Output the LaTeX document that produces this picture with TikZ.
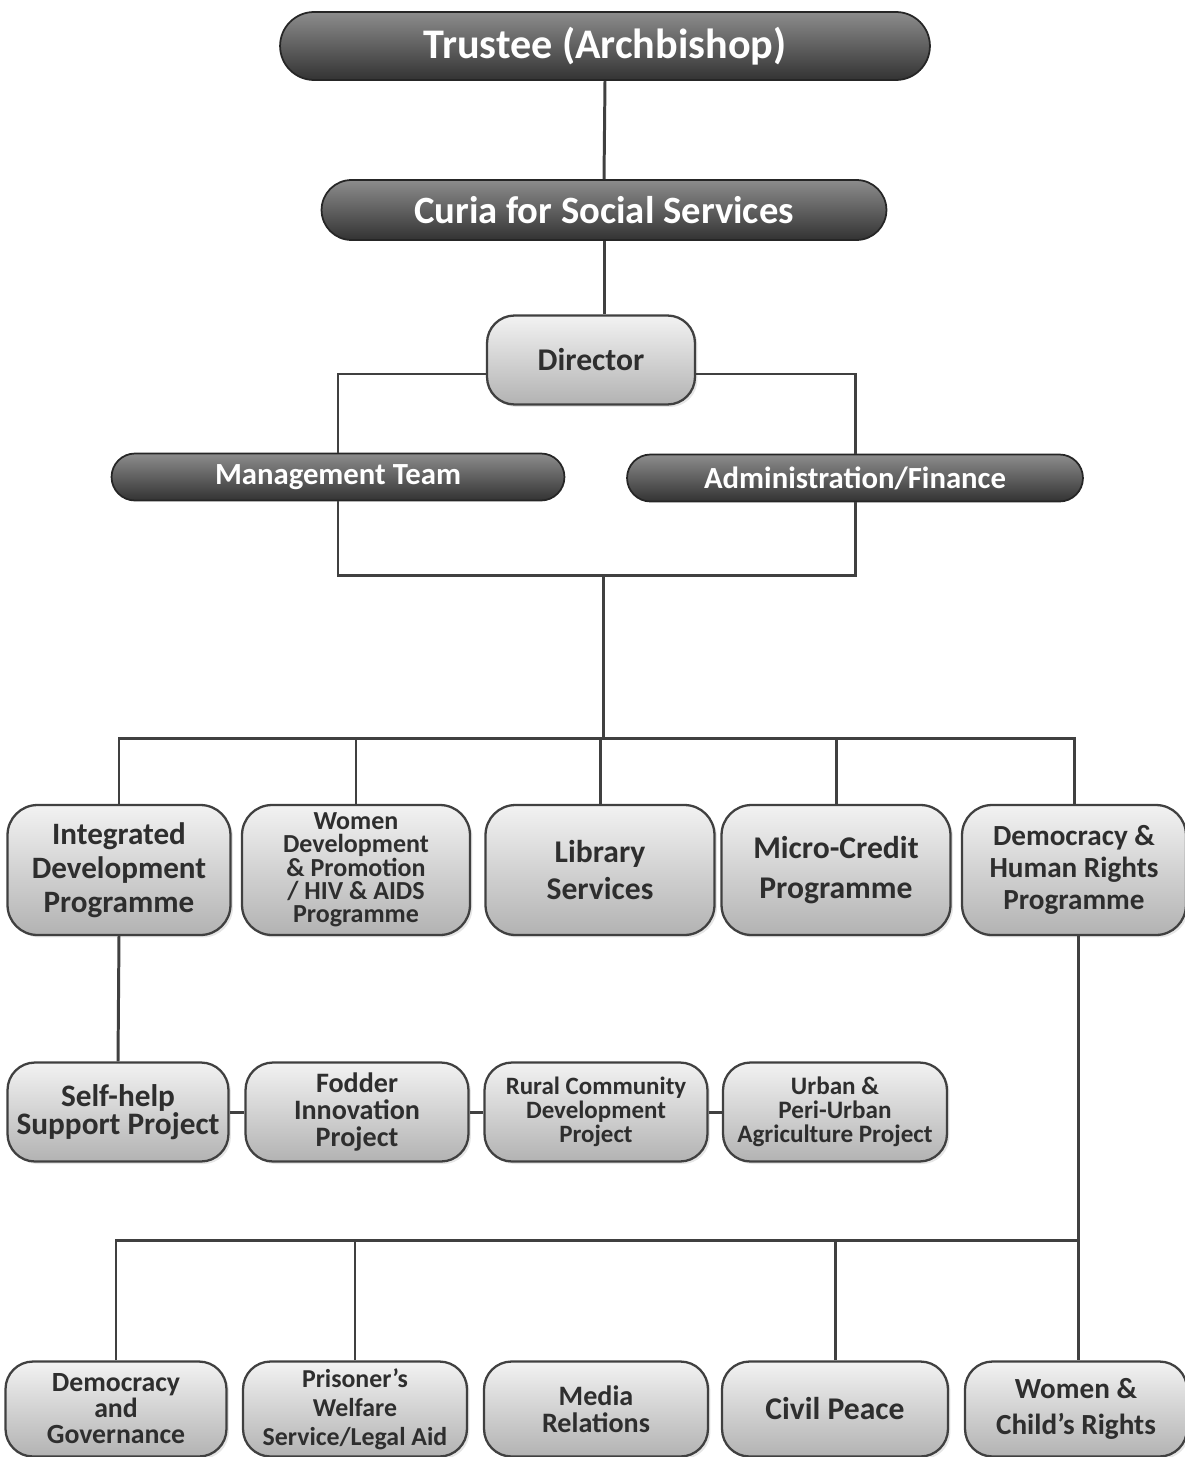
\documentclass[tikz,border=0pt]{standalone}
\usepackage{fontspec}
\setmainfont{Carlito}
\usetikzlibrary{positioning,shadows}
\newcommand\fs[2]{\fontsize{#1}{#2}\selectfont\bfseries\lineskiplimit=-20pt}
\tikzset{
  conn/.style={draw=black!75, line width=1.7pt},
  headbox/.style={draw=black!85, line width=1pt, top color=black!45, bottom color=black!80, text=white, align=center, inner sep=2pt},
  unitbox/.style={draw=black!75, line width=1.3pt, rounded corners=0.55cm, top color=black!5, bottom color=black!30, text=black!82, align=center, inner sep=2pt, drop shadow={opacity=0.2, shadow xshift=0.05cm, shadow yshift=-0.05cm}},
  progbox/.style={unitbox, minimum height=2.6cm, rounded corners=0.6cm},
  projbox/.style={unitbox, minimum height=1.98cm},
  relbox/.style={unitbox, minimum height=1.9cm}
}

\begin{document}
\begin{tikzpicture}[x=0.02cm, y=-0.02cm]
  \useasboundingbox (0,0) rectangle (1185,1457);
  % top of the chart
  \node[headbox, minimum width=13cm, minimum height=1.36cm, rounded corners=0.68cm, font=\fs{24}{26}] (trustee) at (605,46) {Trustee (Archbishop)};
  \node[headbox, minimum width=11.3cm, minimum height=1.2cm, rounded corners=0.6cm, font=\fs{22}{24}] (curia) at (604,210) {Curia for Social Services};
  \node[unitbox, minimum width=4.16cm, minimum height=1.78cm, font=\fs{18}{20}] (director) at (591,360) {Director};
  \node[headbox, minimum width=9.06cm, minimum height=0.94cm, rounded corners=0.47cm, font=\fs{17.5}{19}] (mgmt) at (338,477) {Management Team};
  \node[headbox, minimum width=9.12cm, minimum height=0.94cm, rounded corners=0.47cm, font=\fs{17.5}{19}] (admin) at (855,478) {Administration/Finance};
  \coordinate (hub) at (603,575);
  \coordinate (bus) at (603,738);

  % programmes
  \node[progbox, minimum width=4.46cm, font=\fs{17.7}{19.3}] (prog1) at (119,870) {Integrated\\Development\\Programme};
  \node[progbox, minimum width=4.56cm, font=\fs{14.8}{13.3}] (prog2) at (356,870) {Women\\Development\\\& Promotion\\/ HIV \& AIDS\\Programme};
  \node[progbox, minimum width=4.58cm, font=\fs{18}{21.5}] (prog3) at (600,870) {Library\\Services};
  \node[progbox, minimum width=4.58cm, font=\fs{18}{22.7}] (prog4) at (836,870) {Micro-Credit\\Programme};
  \node[progbox, minimum width=4.48cm, font=\fs{16.6}{18.1}] (prog5) at (1074,870) {Democracy \&\\Human Rights\\Programme};

  % projects
  \node[projbox, minimum width=4.42cm, font=\fs{17.8}{16.2}] (proj1) at (118,1112) {Self-help\\Support Project};
  \node[projbox, minimum width=4.46cm, font=\fs{16}{15.3}] (proj2) at (357,1112) {Fodder\\Innovation\\Project};
  \node[projbox, minimum width=4.46cm, font=\fs{14.2}{13.6}] (proj3) at (596,1112) {Rural Community\\Development\\Project};
  \node[projbox, minimum width=4.48cm, font=\fs{14.3}{13.6}] (proj4) at (835,1112) {Urban \&\\Peri-Urban\\Agriculture Project};

  % democracy and human rights units
  \node[relbox, minimum width=4.42cm, font=\fs{15.8}{14.8}] (rel1) at (116,1409) {Democracy\\and\\Governance};
  \node[relbox, minimum width=4.48cm, font=\fs{14.7}{16.4}] (rel2) at (355,1409) {Prisoner’s\\Welfare\\Service/Legal Aid};
  \node[relbox, minimum width=4.48cm, font=\fs{16}{15.3}] (rel3) at (596,1409) {Media\\Relations};
  \node[relbox, minimum width=4.52cm, font=\fs{18}{20}] (rel4) at (835,1409) {Civil Peace};
  \node[relbox, minimum width=4.44cm, font=\fs{16.6}{20.4}] (rel5) at (1076,1409) {Women \&\\Child’s Rights};
  \coordinate (lowbus) at (1078,1240);

  % connectors
  \draw[conn] (trustee.south) -- (curia.north);
  \draw[conn] (curia.south) -- (curia.south |- director.north);
  \draw[conn] ([yshift=-0.28cm]director.west) -| (mgmt.north);
  \draw[conn] ([yshift=-0.28cm]director.east) -| (admin.north);
  \draw[conn] (mgmt.south) |- (hub) -| (admin.south);
  \draw[conn] (hub) -- (bus);
  \foreach \i in {1,...,5}
    \draw[conn] (bus) -| (prog\i.north);
  \draw[conn] (prog1.south) -- (proj1.north);
  \draw[conn] (proj1) -- (proj2) -- (proj3) -- (proj4);
  \draw[conn] (prog5.south -| lowbus) -- (rel5.north -| lowbus);
  \foreach \i in {1,2,4}
    \draw[conn] (rel\i.north) |- (lowbus);
\end{tikzpicture}
\end{document}
